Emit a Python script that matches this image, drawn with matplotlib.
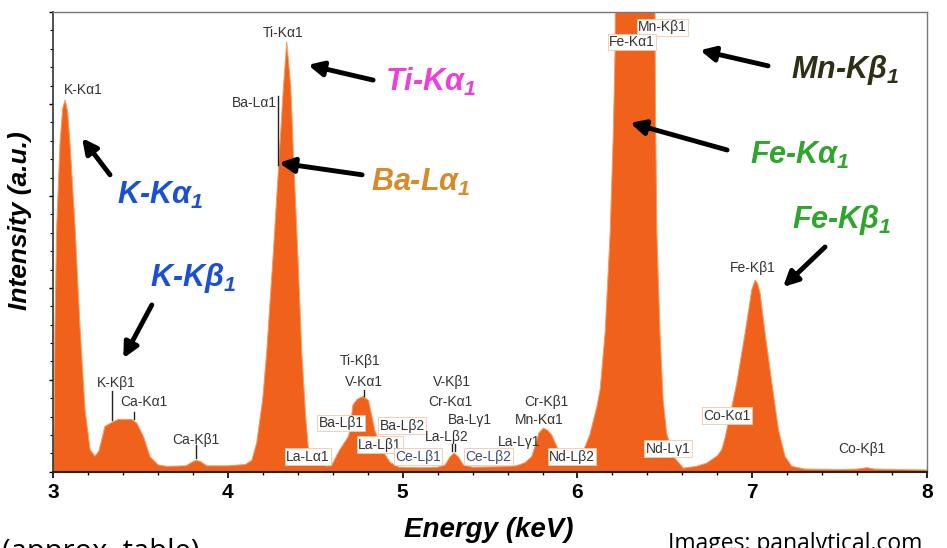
import matplotlib
matplotlib.use("Agg")
import matplotlib.pyplot as plt
from matplotlib.ticker import MultipleLocator

# spectrum (energy in keV, intensity in % of the axis height)
energy = [3.000, 3.006, 3.011, 3.021, 3.040, 3.055, 3.069, 3.083, 3.097, 3.126,
          3.154, 3.183, 3.212, 3.240, 3.262, 3.279, 3.297, 3.345, 3.374, 3.450,
          3.479, 3.517, 3.555, 3.602, 3.650, 3.760, 3.800, 3.822, 3.845, 3.880,
          4.000, 4.100, 4.137, 4.165, 4.200, 4.222, 4.260, 4.295, 4.318, 4.337,
          4.360, 4.375, 4.400, 4.423, 4.445, 4.460, 4.500, 4.566, 4.595, 4.640,
          4.690, 4.700, 4.715, 4.740, 4.775, 4.805, 4.830, 4.840, 4.880, 4.930,
          4.980, 5.100, 5.200, 5.243, 5.270, 5.294, 5.320, 5.347, 5.400, 5.550,
          5.650, 5.700, 5.738, 5.757, 5.780, 5.805, 5.830, 5.853, 5.890, 5.940,
          5.980, 6.015, 6.044, 6.070, 6.110, 6.130, 6.158, 6.187, 6.205, 6.215,
          6.220, 6.440, 6.446, 6.454, 6.472, 6.490, 6.510, 6.550, 6.606, 6.680,
          6.740, 6.800, 6.825, 6.845, 6.862, 6.885, 6.911, 6.959, 6.997, 7.016,
          7.030, 7.045, 7.073, 7.112, 7.150, 7.188, 7.226, 7.300, 7.500, 7.600,
          7.655, 7.700, 8.000]
intensity = [4.0, 10.0, 31.6, 53.3, 71.5, 79.0, 80.9, 78.5, 71.5, 53.3,
             31.6, 13.5, 4.8, 3.4, 4.5, 7.0, 9.9, 10.9, 11.4, 11.4,
             10.6, 7.7, 3.3, 1.5, 1.2, 1.3, 2.2, 2.5, 2.2, 1.3,
             1.3, 1.6, 2.5, 6.3, 16.0, 25.9, 47.6, 69.3, 83.7, 93.5,
             83.7, 69.3, 47.6, 25.9, 12.0, 5.4, 2.5, 1.2, 1.5, 4.8,
             7.7, 9.5, 14.5, 15.8, 16.4, 15.5, 11.0, 9.1, 4.8, 2.0,
             1.0, 0.9, 1.0, 1.5, 3.2, 4.1, 3.2, 1.5, 1.0, 1.1,
             1.3, 2.0, 3.3, 5.5, 8.5, 9.5, 9.0, 8.0, 4.8, 3.3,
             3.1, 3.7, 5.5, 8.0, 14.0, 18.0, 30.2, 52.0, 73.7, 91.7,
             130.0, 130.0, 80.0, 52.0, 30.2, 15.7, 8.4, 3.3, 0.8, 1.2,
             1.9, 3.5, 4.8, 7.5, 10.6, 14.5, 19.3, 30.2, 39.6, 41.7,
             41.0, 38.8, 30.2, 19.3, 9.1, 3.3, 1.2, 0.6, 0.5, 0.6,
             0.9, 0.6, 0.4]

x_ticks = [3, 4, 5, 6, 7, 8]

# small line labels: (text, energy, intensity, boxed, colour)
line_labels = [
    ("K-K\u03b11", 3.17, 83.0, False, "#333333"),
    ("Ti-K\u03b11", 4.316, 95.4, False, "#333333"),
    ("Ba-L\u03b11", 4.15, 80.2, False, "#333333"),
    ("Mn-K\u03b21", 6.487, 96.7, True, "#333333"),
    ("Fe-K\u03b11", 6.312, 93.5, True, "#333333"),
    ("Fe-K\u03b21", 7.005, 44.3, False, "#333333"),
    ("K-K\u03b21", 3.36, 19.4, False, "#333333"),
    ("Ca-K\u03b11", 3.52, 15.2, False, "#333333"),
    ("Ca-K\u03b21", 3.818, 7.0, False, "#333333"),
    ("La-L\u03b11", 4.459, 3.3, True, "#333333"),
    ("Ba-L\u03b21", 4.648, 10.6, True, "#333333"),
    ("Ti-K\u03b21", 4.756, 24.0, False, "#333333"),
    ("V-K\u03b11", 4.779, 19.6, False, "#333333"),
    ("Ba-L\u03b22", 4.997, 10.0, True, "#333333"),
    ("La-L\u03b21", 4.871, 5.9, True, "#333333"),
    ("Ce-L\u03b21", 5.088, 3.3, True, "#3b4a7a"),
    ("V-K\u03b21", 5.283, 19.6, False, "#333333"),
    ("Cr-K\u03b11", 5.271, 15.2, False, "#333333"),
    ("Ba-L\u03b31", 5.386, 11.3, False, "#333333"),
    ("La-L\u03b22", 5.254, 7.6, False, "#333333"),
    ("Ce-L\u03b22", 5.489, 3.3, True, "#3b4a7a"),
    ("La-L\u03b31", 5.665, 6.4, False, "#333333"),
    ("Cr-K\u03b21", 5.82, 15.2, False, "#333333"),
    ("Mn-K\u03b11", 5.78, 11.3, False, "#333333"),
    ("Nd-L\u03b22", 5.969, 3.3, True, "#333333"),
    ("Nd-L\u03b31", 6.518, 5.0, True, "#333333"),
    ("Co-K\u03b11", 6.856, 12.2, True, "#333333"),
    ("Co-K\u03b21", 7.628, 5.0, False, "#333333"),
]

# short leader lines under some labels: (energy, top, bottom)
leaders = [(3.339, 17.5, 11.3), (3.465, 13.0, 11.5), (3.818, 5.9, 3.0),
           (4.287, 81.7, 66.7), (4.78, 17.8, 16.5), (5.283, 6.0, 4.6),
           (5.298, 6.0, 4.6)]

# big coloured callouts: (text, colour, text pos, arrow tail, arrow head)
callouts = [
    (r"K-K$\alpha_1$", "#1a4fd6", (3.612, 60.2), (3.326, 64.6), (3.166, 72.6)),
    (r"K-K$\beta_1$", "#1a4fd6", (3.801, 42.2), (3.565, 36.3), (3.402, 24.7)),
    (r"Ti-K$\alpha_1$", "#ee3fd6", (5.157, 84.8), (4.831, 85.2), (4.459, 88.5)),
    (r"Ba-L$\alpha_1$", "#d88a2a", (5.105, 63.0), (4.768, 64.6), (4.293, 67.2)),
    (r"Mn-K$\beta_1$", "#2f2f14", (7.531, 87.4), (7.090, 88.3), (6.701, 91.7)),
    (r"Fe-K$\alpha_1$", "#2ea52e", (7.273, 68.9), (6.856, 70.0), (6.301, 75.9)),
    (r"Fe-K$\beta_1$", "#2ea52e", (7.514, 54.8), (7.416, 48.9), (7.176, 40.2)),
]

plt.rcParams['font.family'] = ['Liberation Sans', 'DejaVu Sans']
plt.rcParams['mathtext.fontset'] = 'custom'
plt.rcParams['mathtext.it'] = 'Liberation Sans:italic:bold'
plt.rcParams['mathtext.rm'] = 'Liberation Sans:italic:bold'
plt.rcParams['mathtext.bf'] = 'Liberation Sans:italic:bold'

fig = plt.figure(figsize=(9.47, 5.48), dpi=100)
ax = fig.add_axes([0.056, 0.139, 0.923, 0.839])

orange = '#f0621c'
ax.fill_between(energy, intensity, 0, color=orange, lw=0)
ax.plot(energy, intensity, color='#f69a5e', lw=0.7)

ax.set_xlim(3, 8)
ax.set_ylim(0, 100)
ax.set_xticks(x_ticks)
ax.xaxis.set_minor_locator(MultipleLocator(0.2))
ax.yaxis.set_major_locator(MultipleLocator(20))
ax.yaxis.set_minor_locator(MultipleLocator(4))
ax.set_yticklabels([])
ax.tick_params(axis='x', which='major', direction='out', length=4, width=1.2,
               labelsize=15, pad=4)
ax.tick_params(axis='x', which='minor', direction='out', length=2.5, width=1)
ax.tick_params(axis='y', which='major', direction='out', length=3, width=1)
ax.tick_params(axis='y', which='minor', direction='out', length=2, width=0.8)
for lab in ax.get_xticklabels():
    lab.set_fontweight('bold')

ax.spines['bottom'].set_color('#222222')
ax.spines['bottom'].set_linewidth(1.5)
ax.spines['left'].set_color('#333333')
ax.spines['left'].set_linewidth(1.2)
for s in ['top', 'right']:
    ax.spines[s].set_color('#777777')
    ax.spines[s].set_linewidth(1.0)

ax.set_xlabel("Energy (keV)", fontsize=20, fontweight='bold', style='italic')
ax.xaxis.set_label_coords(0.498, -0.098)
ax.set_ylabel("Intensity (a.u.)", fontsize=19, fontweight='bold', style='italic')
ax.yaxis.set_label_coords(-0.024, 0.546)

for e, top, bot in leaders:
    ax.plot([e, e], [bot, top], color='#222222', lw=1.0, zorder=3)

for text, e, val, boxed, col in line_labels:
    kw = {}
    if boxed:
        kw['bbox'] = dict(boxstyle='square,pad=0.1', facecolor='white',
                          edgecolor='#f5c7a4', lw=0.6)
    ax.text(e, val, text, fontsize=10, color=col, ha='center', va='center',
            zorder=4, **kw)

for text, col, pos, tail, head in callouts:
    ax.text(pos[0], pos[1], text, fontsize=22, color=col, fontweight='bold',
            style='italic', ha='center', va='center', zorder=5)
    ax.annotate('', xy=head, xytext=tail, zorder=5,
                arrowprops=dict(arrowstyle='-|>', color='black', lw=3.5,
                                mutation_scale=22, shrinkA=0, shrinkB=0))

# footer notes, partly cut off by the bottom edge as in the source image
fig.text(0.002, -0.022, "(approx. table)", fontsize=21, family='Open Sans',
         ha='left', va='baseline')
fig.text(0.705, -0.004, "Images: panalytical.com", fontsize=16.5, family='Open Sans',
         ha='left', va='baseline')

fig.savefig("out.png", dpi=100)
